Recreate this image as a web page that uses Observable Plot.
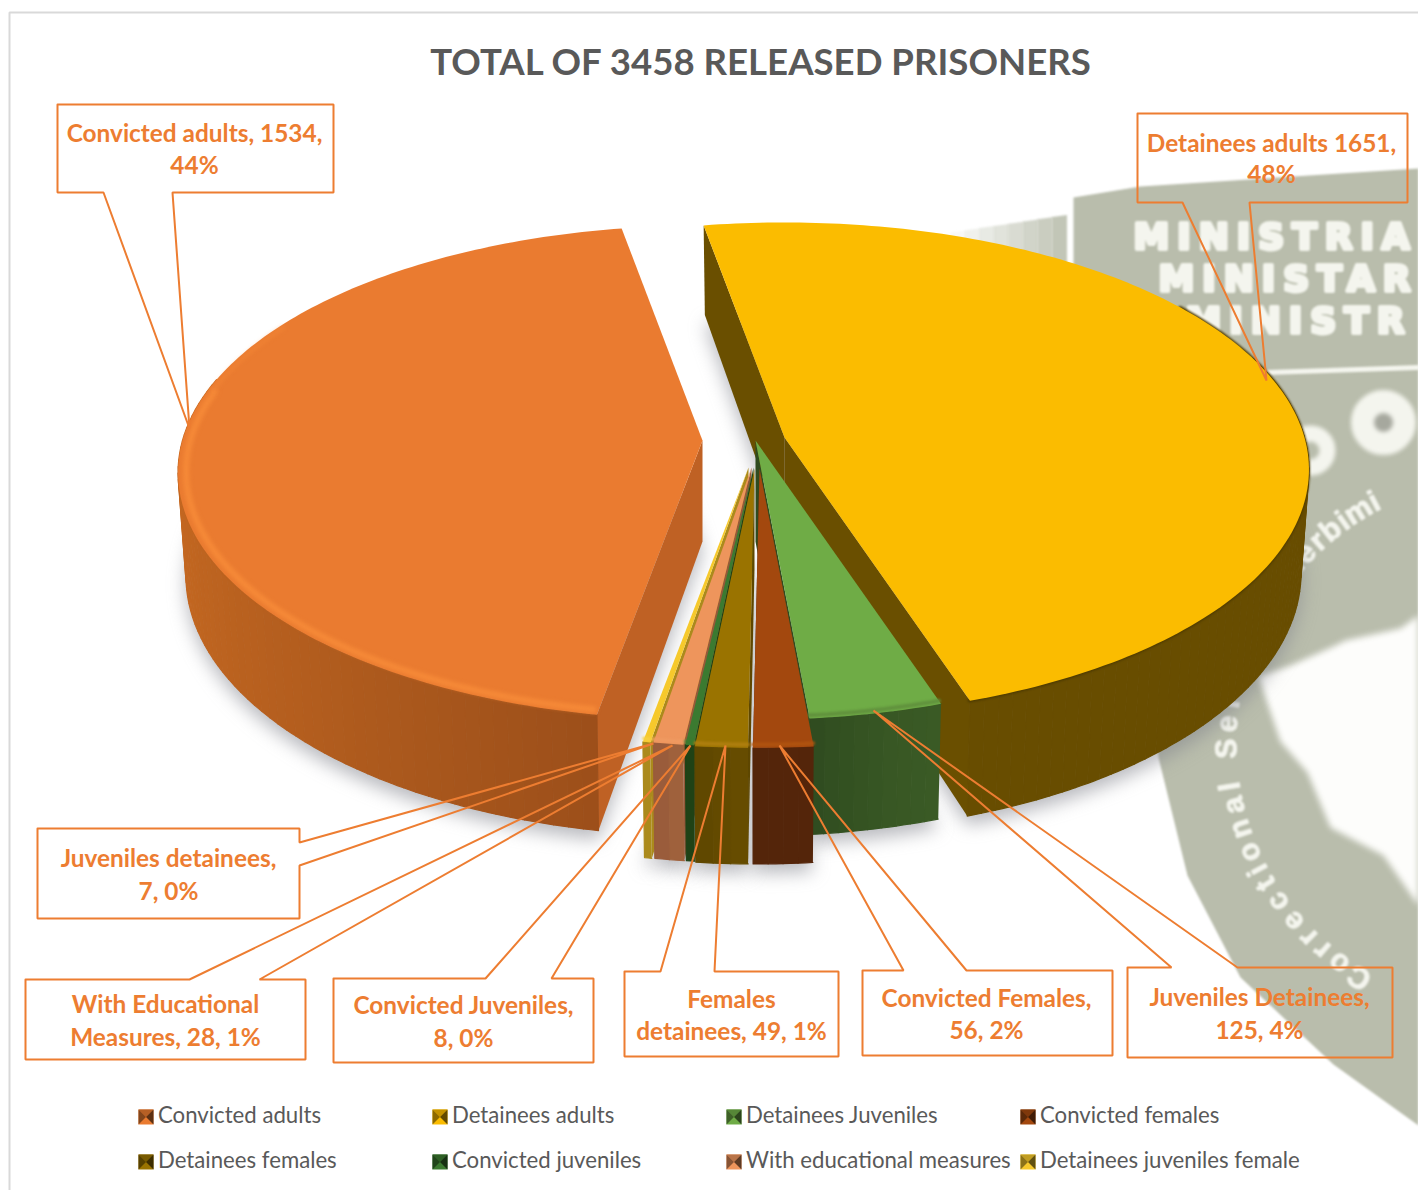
<!DOCTYPE html>
<html>
<head>
<meta charset="utf-8">
<script src="https://cdn.jsdelivr.net/npm/d3@7"></script>
<script src="https://cdn.jsdelivr.net/npm/@observablehq/plot@0.6"></script>
<style>
html,body{margin:0;padding:0;background:#fff;overflow:hidden}
svg{display:block}
.b05{filter:blur(.6px)}
.b08{filter:blur(.9px)}
.b1{filter:blur(1.2px)}
.b2{filter:blur(2px)}
.b3{filter:blur(3px)}
.shadow{filter:blur(9px)}
.wm{filter:blur(.9px);letter-spacing:8px}
</style>
</head>
<body>
<div id="chart"></div>
<script>
// ---- data ----
const title = "TOTAL OF 3458 RELEASED PRISONERS";
const categories = ["Convicted adults","Detainees adults","Detainees Juveniles","Convicted females","Detainees females","Convicted juveniles","With educational measures","Detainees juveniles female"];
const values = [1534,1651,125,56,49,8,28,7];
const calloutLines = [
  ["Convicted adults, 1534,","44%"],
  ["Detainees adults 1651,","48%"],
  ["Juveniles Detainees,","125, 4%"],
  ["Convicted Females,","56, 2%"],
  ["Females","detainees, 49, 1%"],
  ["Convicted Juveniles,","8, 0%"],
  ["With Educational","Measures, 28, 1%"],
  ["Juveniles detainees,","7, 0%"]
];
const topColors = ["#ea7b30","#fbbc00","#6fac46","#a3480e","#9a7300","#3b7a30","#ee955c","#f6c92c"];
const wallColorsA = ["#c96b22","#684d00","#3a5a25","#54250a","#664c00","#1f4216","#a0623c","#ab8a1c"];
const wallColorsB = ["#9c4f1a","#684d00","#2f4b1f","#54250a","#5e4700","#1f4216","#96593a","#ab8a1c"];
const rimColors = ["#f68a38","#e6ab00","#5f8f3c","#b0540f","#b08010","#3b7a30","#f09a62","#f6cf40"];
const legendCols = [138,432,726,1020];
const legendRows = [1115,1160];

// ---- layout of the drawing ----
const W = 1418, H = 1190;
const R = 520, T = 243, K = 0.13, DEPTH = 101, SHRINK = 0.985;
const startAngle = 190.2;
const apexes = [[702,440],[784,437],[755,440],[759,468],[754,468],[753,467],[751,467],[748,467]];
const calloutBoxes = [
  {x1:57,y1:104,x2:333,y2:192,side:"bottom",a:103,b:172,tip:[189,428],tx:194,ty:[134,166]},
  {x1:1137,y1:113,x2:1407,y2:202,side:"bottom",a:1182,b:1249,tip:[1266,380],tx:1271,ty:[144,175]},
  {x1:1127,y1:967,x2:1392,y2:1057,side:"top",a:1171,b:1237,tip:[873,710],tx:1259,ty:[998,1031]},
  {x1:862,y1:970,x2:1112,y2:1055,side:"top",a:903,b:966,tip:[779,745],tx:986,ty:[999,1031]},
  {x1:624,y1:971,x2:838,y2:1056,side:"top",a:660,b:714,tip:[725,745],tx:731,ty:[1000,1032]},
  {x1:333,y1:978,x2:593,y2:1062,side:"top",a:485,b:551,tip:[690,745],tx:463,ty:[1006,1039]},
  {x1:25,y1:979,x2:305,y2:1059,side:"top",a:189,b:259,tip:[672,745],tx:165,ty:[1005,1038]},
  {x1:37,y1:828,x2:299,y2:918,side:"right",a:842,b:865,tip:[653,743],tx:168,ty:[859,892]}
];

const total = d3.sum(values);
let acc = startAngle;
const slices = values.map((v,i)=>{
  const a0 = acc; acc += v/total*360;
  return {i, a0, a1: acc, o: apexes[i]};
});

function pt(a, r, o, low){
  const t = a*Math.PI/180, u = r*Math.sin(t), v = r*Math.cos(t), s = 1/(1+K*v);
  const f = low ? SHRINK : 1;
  return {x:o[0]+R*u*s*f, y:o[1]-T*v*s+(low?DEPTH*s:0)};
}
function arcPts(a0,a1,o,low,r=1){
  const n = Math.max(2,Math.ceil(Math.abs(a1-a0)));
  return d3.range(n+1).map(j=>pt(a0+(a1-a0)*j/n,r,o,low));
}
const poly = (p,fill,cls,extra={}) => Plot.line(p,{x:"x",y:"y",fill,stroke:extra.stroke||"none",strokeWidth:extra.sw||0,fillOpacity:extra.op||1,className:cls,curve:"linear"});
const strokeLine = (p,color,sw,cls,op=1) => Plot.line(p,{x:"x",y:"y",stroke:color,strokeWidth:sw,strokeOpacity:op,className:cls,curve:"linear",strokeLinejoin:"miter"});
const topFace = s => [{x:s.o[0],y:s.o[1]},...arcPts(s.a0,s.a1,s.o,false)];
const wallPoly = (a0,a1,o) => [...arcPts(a0,a1,o,false),...arcPts(a1,a0,o,true)];
function wallStrips(s,a0,a1){
  const n = Math.max(1,Math.round(Math.abs(a1-a0)/1.5));
  const col = d3.interpolateRgb(wallColorsA[s.i],wallColorsB[s.i]);
  return d3.range(n).map(j=>{
    const b0=a0+(a1-a0)*j/n,b1=a0+(a1-a0)*(j+1)/n;
    const c=col(Math.pow((j+.5)/n,1.6));
    return poly(wallPoly(b0,b1,s.o),c,null,{stroke:c,sw:1.2});
  });
}
const cut = (s,a,color)=>poly([{x:s.o[0],y:s.o[1]},pt(a,1,s.o,false),pt(a,1,s.o,true),{x:s.o[0],y:s.o[1]+DEPTH}],color);

// ---- watermark (faded seal behind the chart) ----
const sealGrey = "#b9bdac", sealWhite = "#f4f5ee";
const P = a => a.map(([x,y])=>({x,y}));
const sealCenter=[1500,742];
const charWeight = c => "il".includes(c) ? .55 : "rtf ".includes(c) ? .75 : "mw".includes(c) ? 1.35 : 1;
function ringText(str,th0,step,r){
  let th=th0;
  return [...str].map((c,i)=>{
    const t=th*Math.PI/180;
    const d={c,x:sealCenter[0]+r*Math.cos(t),y:sealCenter[1]+r*Math.sin(t),r:th+90};
    th+=step*(charWeight(c)+charWeight([...str][i+1]||c))/2;
    return d;
  }).filter(d=>d.c!==" ");
}
const ring = [...ringText("Correctional Service",121,5.2,274),...ringText("Sherbimi",216,4.1,272)];
const fadeBands = d3.range(8).map(j=>{
  const x0=950+j*14.5,x1=x0+15;
  return poly(P([[x0,232-j*2.2],[x1,230-j*2.2],[x1,330],[x0,330]]),sealGrey,"b1",{op:.1+j*.11});
});
const wmLine = (text,x,y) => Plot.text([text],{x:()=>x,y:()=>y,text:d=>d,textAnchor:"start",fontFamily:"DejaVu Sans",fontWeight:700,fontSize:36,fill:sealWhite,stroke:sealWhite,strokeWidth:4,className:"wm"});
const watermark = [
  ...fadeBands,
  poly(P([[1073,197],[1140,186],[1418,168],[1418,1125],[1333,1064],[1240,977],[1187,875],[1158,757],[1150,650],[1073,330]]),sealGrey,"b1"),
  poly(P([[1258,676],[1290,665],[1333,646],[1345,640],[1400,628],[1418,615],[1418,905],[1383,855],[1330,827],[1307,772],[1280,741]]),"#fdfdfb","b3"),
  strokeLine(P([[1267,372],[1418,367]]),sealWhite,5,"b08"),
  Plot.dot([[1383,422]],{x:"0",y:"1",r:21,stroke:sealWhite,strokeWidth:23,fill:"#a6a89e",className:"b2"}),
  Plot.dot([[1310,450]],{x:"0",y:"1",r:17,stroke:sealWhite,strokeWidth:16,fill:sealGrey,className:"b2"}),
  wmLine("MINISTRIA",1133,237),
  wmLine("MINISTAR",1158,279),
  wmLine("MINISTR",1185,321),
  Plot.text(ring,{x:"x",y:"y",text:"c",rotate:"r",fontFamily:"Liberation Sans",fontWeight:700,fontSize:30,fill:sealWhite,stroke:sealWhite,strokeWidth:1,className:"b08"})
];

// ---- pie ----
const [orange,yellow,green,...small] = slices;
const shadowOf = s => poly([{x:s.o[0],y:s.o[1]+DEPTH},...arcPts(s.a0,s.a1,s.o,true)].map(d=>({x:d.x,y:d.y+9})),"#7d8088","shadow",{op:.55});
const shadows = [shadowOf(orange),shadowOf(yellow),shadowOf(green),...small.map(shadowOf)];

const yellowEnd = yellow.a1-360;
const yellowMarks = [
  cut(yellow,yellow.a0,"#6a4f00"),
  cut(yellow,yellow.a1,"#6a4f00"),
  ...wallStrips(yellow,70,yellowEnd),
  strokeLine(arcPts(55,yellowEnd,yellow.o,false,.998),"#4d3a00",4,"b1"),
  poly(topFace(yellow),topColors[1],"b05"),
];
const orangeMarks = [
  cut(orange,orange.a0,"#bf6124"),
  ...wallStrips(orange,285,orange.a0),
  poly(topFace(orange),topColors[0]),
  strokeLine(arcPts(orange.a0+.5,282,orange.o,false,.985),rimColors[0],6,"b2"),
  strokeLine(arcPts(282,300,orange.o,false,.99),rimColors[0],3,"b2",.6)
];
const visibleCut = s => ((s.a0+s.a1)/2)%360 < 180 ? s.a1 : s.a0;
const smallSlice = s => [
  cut(s,visibleCut(s),wallColorsB[s.i]),
  ...wallStrips(s,s.a0,s.a1),
  poly(topFace(s),topColors[s.i]),
  strokeLine(arcPts(s.a0,s.a1,s.o,false,.99),rimColors[s.i],4,"b1",.9)
];
const pieces = [...smallSlice(green), ...[...small].reverse().flatMap(smallSlice)];

// ---- callouts ----
const calloutPath = b => {
  const {x1,y1,x2,y2,side,a,b:bb,tip} = b;
  if (side==="bottom") return P([[x1,y1],[x2,y1],[x2,y2],[bb,y2],tip,[a,y2],[x1,y2],[x1,y1]]);
  if (side==="top") return P([[x1,y1],[a,y1],tip,[bb,y1],[x2,y1],[x2,y2],[x1,y2],[x1,y1]]);
  return P([[x1,y1],[x2,y1],[x2,a],tip,[x2,bb],[x2,y2],[x1,y2],[x1,y1]]);
};
const calloutColor = "#ed7d31";
const callouts = calloutBoxes.map(calloutPath).map(p=>strokeLine(p,calloutColor,2));
const calloutText = calloutBoxes.flatMap((b,i)=>calloutLines[i].map((t,j)=>({t,x:b.tx,y:b.ty[j]})));

// ---- legend ----
const legend = categories.map((c,i)=>({c,i,x:legendCols[i%4],y:legendRows[Math.floor(i/4)]}));
const swatch = d => {
  const x=d.x,y=d.y-6,s=15,c=topColors[d.i],dk=d3.color(c).darker(1.6).formatHex(),dd=d3.color(c).darker(2.6).formatHex(),md=d3.color(c).darker(.7).formatHex();
  return [
    poly(P([[x,y],[x+s,y],[x+s,y+s],[x,y+s]]),c),
    poly(P([[x,y],[x+s,y],[x+s/2,y+s/2]]),md),
    poly(P([[x,y],[x,y+s],[x+s/2,y+s/2]]),dk),
    poly(P([[x+s,y],[x+s,y+s],[x+s/2,y+s/2]]),dd)
  ];
};

const plot = Plot.plot({
  width:W,height:H,margin:0,
  x:{domain:[0,W],range:[0,W],axis:null},
  y:{domain:[0,H],range:[0,H],axis:null},
  marks:[
    strokeLine(P([[9,H],[9,12],[W,12]]),"#d9d9d9",2),
    ...watermark,
    ...shadows,
    ...yellowMarks,
    ...orangeMarks,
    ...pieces,
    Plot.text([title],{x:()=>760,y:()=>63,text:d=>d,fontFamily:"Lato",fontWeight:700,fontSize:36.6,fill:"#595959"}),
    ...callouts,
    Plot.text(calloutText,{x:"x",y:"y",text:"t",fontFamily:"Lato",fontWeight:700,fontSize:24.4,fill:calloutColor}),
    ...legend.flatMap(swatch),
    Plot.text(legend,{x:d=>d.x+19.5,y:"y",text:"c",textAnchor:"start",fontFamily:"Lato",fontSize:22.2,fill:"#595959"})
  ]
});
document.getElementById("chart").appendChild(plot);
</script>
</body>
</html>
